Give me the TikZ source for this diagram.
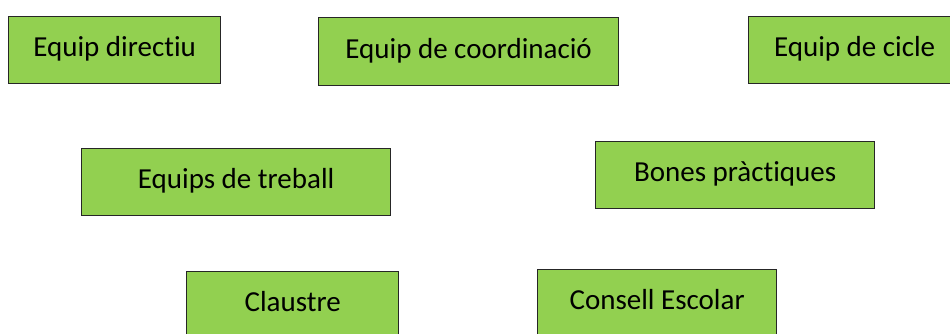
\documentclass[tikz,border=0pt]{standalone}
\usepackage{fontspec}
\setmainfont{Carlito}[Ligatures=NoCommon]
\usepackage{xcolor}
\definecolor{boxgreen}{HTML}{92D050}
\usetikzlibrary{positioning}

\begin{document}
\begin{tikzpicture}[
  x=1pt,y=1pt,
  box/.style={draw=black!85,line width=1.3pt,fill=boxgreen,anchor=north west,
              align=center,inner sep=0pt,text height=18pt,text depth=5pt,
              font=\fontsize{29}{34}\selectfont}
]
\useasboundingbox (0,0) rectangle (950,-334);
\clip (0,0) rectangle (950,-334);
\node[box,minimum width=212,minimum height=67] (directiu) at (8,-16) {Equip directiu};
\node[box,minimum width=300,minimum height=68] (coord) at (318,-17) {Equip de coordinació};
\node[box,minimum width=212,minimum height=67] (cicle) at (748,-16) {Equip de cicle};
\node[box,minimum width=309,minimum height=67] (treball) at (81,-148) {Equips de treball};
\node[box,minimum width=279,minimum height=67] (bones) at (595,-141) {Bones pràctiques};
\node[box,minimum width=212,minimum height=72,text depth=10pt] (claustre) at (186,-271) {Claustre};
\node[box,minimum width=239,minimum height=72,text depth=10pt] (consell) at (537,-269) {Consell Escolar};
\end{tikzpicture}
\end{document}
